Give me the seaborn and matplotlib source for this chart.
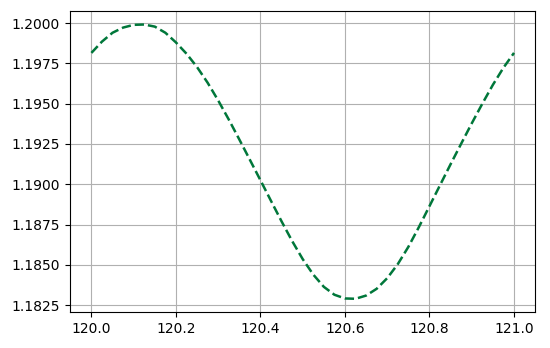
import matplotlib
matplotlib.use("Agg")
import matplotlib.pyplot as plt
import seaborn as sns
import pandas as pd

x_values = [120.000, 120.025, 120.050, 120.075, 120.100, 120.125, 120.150, 120.175,
            120.200, 120.225, 120.250, 120.275, 120.300, 120.325, 120.350, 120.375,
            120.400, 120.425, 120.450, 120.475, 120.500, 120.525, 120.550, 120.575,
            120.600, 120.625, 120.650, 120.675, 120.700, 120.725, 120.750, 120.775,
            120.800, 120.825, 120.850, 120.875, 120.900, 120.925, 120.950, 120.975,
            121.000]
y_values = [1.19815, 1.19885, 1.19940, 1.19972, 1.19989, 1.19991, 1.19978, 1.19940,
            1.19880, 1.19810, 1.19727, 1.19630, 1.19520, 1.19402, 1.19278, 1.19152,
            1.19025, 1.18897, 1.18770, 1.18648, 1.18536, 1.18440, 1.18364, 1.18315,
            1.18292, 1.18290, 1.18310, 1.18352, 1.18418, 1.18505, 1.18612, 1.18735,
            1.18865, 1.18995, 1.19125, 1.19252, 1.19378, 1.19500, 1.19617, 1.19723,
            1.19815]

df = pd.DataFrame({"x": x_values, "y": y_values})

sns.set_style("ticks")
plt.rcParams['font.family'] = ['DejaVu Sans']

fig = plt.figure(figsize=(5.5, 3.48), dpi=100)
ax = fig.add_axes([0.127, 0.103, 0.846, 0.865])
sns.lineplot(data=df, x="x", y="y", ax=ax, color="#00773a", linestyle="--", linewidth=1.8)
ax.grid(True, color="#b0b0b0", linewidth=0.8)
ax.set_axisbelow(True)
ax.set_xlabel("")
ax.set_ylabel("")
xt = [120.0, 120.2, 120.4, 120.6, 120.8, 121.0]
yt = [1.1825, 1.1850, 1.1875, 1.1900, 1.1925, 1.1950, 1.1975, 1.2000]
ax.set_xticks(xt)
ax.set_yticks(yt)
ax.set_yticklabels([f"{v:.4f}" for v in yt])
ax.set_xticklabels([f"{v:.1f}" for v in xt])
for s in ax.spines.values():
    s.set_visible(True)
    s.set_color("black")
    s.set_linewidth(0.8)
ax.tick_params(colors="black", labelsize=10, length=3.5, width=0.8)
ax.set_xlim(119.949, 121.05)
ax.set_ylim(1.18207, 1.20074)
fig.savefig("out.png", dpi=100)
